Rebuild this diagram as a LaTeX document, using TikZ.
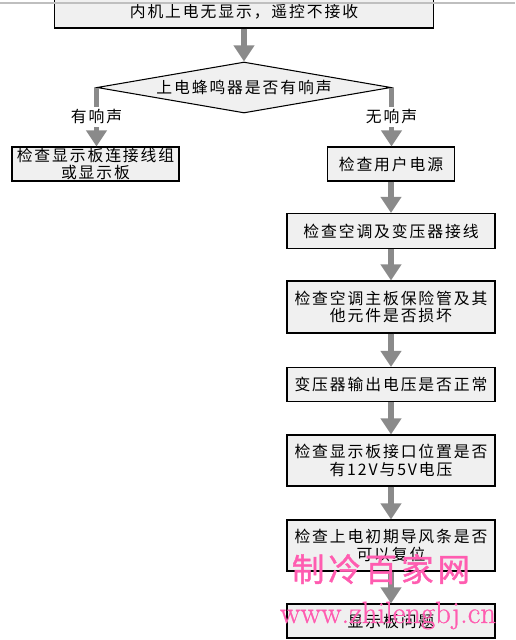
\documentclass[tikz,border=0pt]{standalone}
\usepackage{fontspec}
\newfontfamily\cjk[LetterSpace=12]{Noto Sans CJK SC}
\newfontfamily\wmfont[LetterSpace=12, FakeBold=1.2]{Noto Sans CJK SC}
\newfontfamily\wmurlfont[FakeBold=0.8]{Latin Modern Roman}
\usetikzlibrary{shapes.geometric, arrows.meta}
\definecolor{boxfill}{RGB}{240,240,240}
\definecolor{flowgray}{RGB}{138,138,138}
\definecolor{wmpink}{RGB}{255,92,176}
\tikzset{
  boxtext/.style={font=\cjk\fontsize{9}{9.8}\selectfont},
  stepbox/.style={boxtext, draw=black, line width=0.6pt, fill=boxfill,
    inner sep=0pt, align=center, minimum height=0.68cm},
  decision/.style={boxtext, diamond, draw=black, line width=0.6pt, fill=boxfill,
    inner sep=0pt, aspect=5.8, minimum width=5.88cm, minimum height=1.02cm},
  flowarrow/.style={draw=flowgray, line width=3.4pt,
    -{Triangle[width=0.4cm, length=0.32cm]}},
  flowlabel/.style={boxtext, fill=white, inner sep=1.5pt},
  watermark/.style={text=wmpink, inner sep=0pt}
}
\begin{document}
\begin{tikzpicture}[x=0.02cm, y=-0.02cm]
  \useasboundingbox (0,0) rectangle (515,640);

  % --- Khung đầu và câu hỏi ---
  \node[stepbox, minimum width=7.58cm, minimum height=0.64cm] (start) at (244,12) {内机上电无显示，遥控不接收};
  \draw[black!25, line width=0.6pt] (0,3) -- (515,3);
  \node[decision] (beep) at (244,87.5) {上电蜂鸣器是否有响声};

  % --- Hai nhánh ---
  \node[stepbox, minimum width=3.34cm] (board) at (95.5,164) {检查显示板连接线组\\或显示板};
  \node[stepbox, minimum width=2.54cm] (power) at (391,164) {检查用户电源};

  % --- Chuỗi kiểm tra bên phải ---
  \node[stepbox, minimum width=4.16cm, minimum height=0.70cm] (wiring) at (391,231) {检查空调及变压器接线};
  \node[stepbox, minimum width=4.16cm, minimum height=1.04cm] (fuse) at (391,307) {检查空调主板保险管及其\\他元件是否损坏};
  \node[stepbox, minimum width=4.16cm] (trans) at (391,384.5) {变压器输出电压是否正常};
  \node[stepbox, minimum width=4.16cm, minimum height=1.02cm] (volt) at (391,460.5) {检查显示板接口位置是否\\有12V与5V电压};
  \node[stepbox, minimum width=4.16cm, minimum height=1.02cm] (louver) at (391,545.5) {检查上电初期导风条是否\\可以复位};
  \node[stepbox, minimum width=4.16cm, minimum height=0.68cm] (fault) at (391,621) {显示板问题};

  % --- Mũi tên ---
  \draw[flowarrow] (start.south) -- (beep.north);
  \draw[flowarrow] (beep.west) -- node[flowlabel] {有响声} (beep.west |- board.north);
  \draw[flowarrow] (beep.east) -- node[flowlabel] {无响声} (beep.east |- power.north);
  \draw[flowarrow] (power.south) -- (wiring.north);
  \draw[flowarrow] (wiring.south) -- (fuse.north);
  \draw[flowarrow] (fuse.south) -- (trans.north);
  \draw[flowarrow] (trans.south) -- (volt.north);
  \draw[flowarrow] (volt.south) -- (louver.north);
  \draw[flowarrow] (louver.south) -- (fault.north);

  % --- Dấu nước ---
  \node[watermark, font=\wmfont\fontsize{18.5}{18.5}\selectfont] (wmname) at (381,569) {制冷百家网};
  \node[watermark, font=\wmurlfont\fontsize{17.5}{17.5}\selectfont, anchor=base] (wmurl) at (388,623) {www.zhilengbj.cn};
\end{tikzpicture}
\end{document}
